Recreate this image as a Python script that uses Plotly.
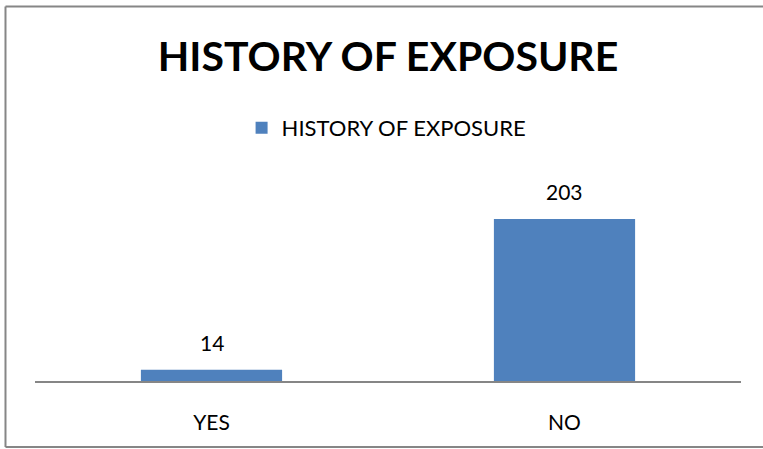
import plotly.graph_objects as go

categories = ["YES", "NO"]
counts = [14, 203]
series_name = "HISTORY OF EXPOSURE"
chart_title = "HISTORY OF EXPOSURE"

BAR_COLOR = "#4F81BD"
FONT = "Lato, Calibri, Carlito, sans-serif"
BORDER = "#868686"

fig = go.Figure()
fig.add_trace(go.Bar(
    x=categories,
    y=counts,
    name=series_name,
    marker=dict(color=BAR_COLOR, line=dict(width=0)),
    showlegend=True,
))

# value labels above each bar
for c, v in zip(categories, counts):
    fig.add_annotation(
        x=c, y=v, text=str(v), showarrow=False,
        yanchor="bottom", yshift=13,
        font=dict(family=FONT, size=21, color="#000000"),
    )

# outer chart frame: left, top and bottom edges (right edge lies off the canvas)
bx0, bx1, by0, by1 = -0.0418, 1.2, -0.33, 1.8725
for x0, y0, x1, y1 in [
    (bx0, by0, bx0, by1),
    (bx0, by1, bx1, by1),
    (bx0, by0, bx1, by0),
]:
    fig.add_shape(
        type="line", xref="paper", yref="paper",
        x0=x0, y0=y0, x1=x1, y1=y1,
        line=dict(color=BORDER, width=2), layer="below",
    )

fig.update_layout(
    width=763, height=449,
    margin=dict(l=35, r=22, t=181, b=68),
    paper_bgcolor="white", plot_bgcolor="white",
    bargap=0.6,
    title=dict(
        text=chart_title, xref="paper", x=0.5, xanchor="center",
        yref="container", y=1 - 57 / 449, yanchor="middle",
        font=dict(family=FONT, size=41, color="#000000", weight="bold"),
    ),
    legend=dict(
        orientation="h", x=0.498, xanchor="center",
        y=1.265, yanchor="middle",
        font=dict(family=FONT, size=22, color="#000000"),
        itemwidth=30,
    ),
    xaxis=dict(
        showline=True, linecolor=BORDER, linewidth=2,
        showgrid=False, ticks="", ticklabelstandoff=22,
        tickfont=dict(family=FONT, size=21, color="#000000"),
    ),
    yaxis=dict(
        range=[0, 250.6], visible=False, showgrid=False, zeroline=False,
    ),
)

fig.write_html("out.html")
